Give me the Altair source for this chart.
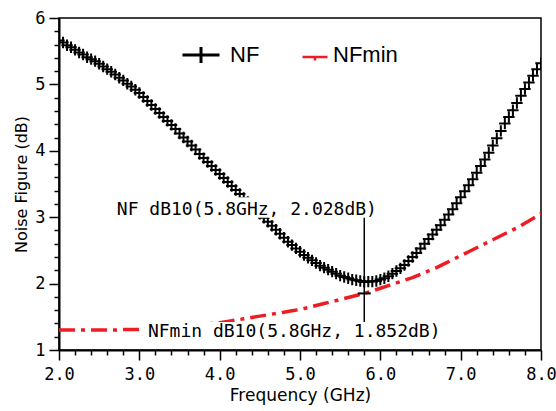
import altair as alt
import pandas as pd

# ---------------- data ----------------
freq_nf = [round(2.0 + 0.05 * i, 2) for i in range(121)]
nf_db = [
    5.66, 5.63, 5.59, 5.56, 5.52, 5.48, 5.45, 5.41, 5.38, 5.35,
    5.31, 5.27, 5.23, 5.19, 5.15, 5.10, 5.06, 5.01, 4.97, 4.92,
    4.87, 4.81, 4.75, 4.69, 4.63, 4.57, 4.51, 4.45, 4.39, 4.33,
    4.26, 4.20, 4.14, 4.08, 4.02, 3.95, 3.89, 3.83, 3.77, 3.71,
    3.65, 3.59, 3.53, 3.47, 3.41, 3.35, 3.29, 3.23, 3.17, 3.11,
    3.05, 2.99, 2.93, 2.87, 2.81, 2.75, 2.69, 2.63, 2.58, 2.53,
    2.48, 2.43, 2.39, 2.35, 2.31, 2.27, 2.24, 2.21, 2.18, 2.15,
    2.12, 2.10, 2.08, 2.06, 2.05, 2.04, 2.028, 2.03, 2.03, 2.04,
    2.06, 2.08, 2.11, 2.15, 2.19, 2.23, 2.28, 2.34, 2.40, 2.46,
    2.53, 2.60, 2.67, 2.74, 2.81, 2.88, 2.96, 3.04, 3.12, 3.21,
    3.30, 3.39, 3.48, 3.57, 3.67, 3.77, 3.87, 3.97, 4.08, 4.19,
    4.30, 4.41, 4.51, 4.61, 4.72, 4.83, 4.93, 5.03, 5.13, 5.23,
    5.32,
]

freq_nfmin = [round(2.0 + 0.1 * i, 1) for i in range(61)]
nfmin_db = [
    1.30, 1.30, 1.30, 1.30, 1.30, 1.30, 1.30, 1.30, 1.31, 1.31,
    1.31, 1.32, 1.32, 1.33, 1.34, 1.35, 1.36, 1.37, 1.38, 1.40,
    1.41, 1.43, 1.45, 1.47, 1.49, 1.51, 1.53, 1.55, 1.57, 1.59,
    1.61, 1.64, 1.67, 1.70, 1.73, 1.76, 1.79, 1.82, 1.852, 1.89,
    1.93, 1.97, 2.01, 2.05, 2.09, 2.14, 2.19, 2.24, 2.30, 2.36,
    2.42, 2.48, 2.54, 2.60, 2.66, 2.72, 2.78, 2.84, 2.91, 2.98,
    3.05,
]

x_ticks = [round(2.0 + 0.2 * i, 1) for i in range(31)]
y_ticks = [round(1.0 + 0.2 * i, 1) for i in range(26)]

marker_freq = 5.8
marker_values = [2.028, 1.852]
marker_line = [1.37, 3.03]

ann_text = ["NF dB10(5.8GHz, 2.028dB)", "NFmin dB10(5.8GHz, 1.852dB)"]
ann_f = [2.72, 3.107]
ann_v = [3.033, 1.196]
ann_box_f = [2.70, 3.07]
ann_box_f2 = [5.97, 6.81]
ann_box_v = [3.30, 1.42]
ann_box_v2 = [2.99, 1.15]

legend_names = ["NF", "NFmin"]

RED = "#ee1c24"

# ---------------- scales / axes ----------------
xs = alt.Scale(domain=[2, 8], nice=False, zero=False)
ys = alt.Scale(domain=[1, 6], nice=False, zero=False)

xaxis = alt.Axis(
    values=x_ticks, title="Frequency (GHz)", titleFont="DejaVu Sans", titleFontSize=17,
    titleFontWeight="normal", titleColor="black", titlePadding=5,
    labelExpr="datum.value % 1 === 0 ? format(datum.value, '.1f') : ''",
    labelFont="DejaVu Sans Mono", labelFontSize=17, labelColor="black",
    labelPadding=6, labelFlush=False, labelOverlap=False,
    tickSize={"condition": {"test": "datum.value % 1 === 0", "value": 10}, "value": 5},
    tickColor="black", tickWidth=1.5, domainColor="black", domainWidth=2, grid=False,
)
yaxis = alt.Axis(
    values=y_ticks, title="Noise Figure (dB)", titleFont="DejaVu Sans", titleFontSize=16,
    titleFontWeight="normal", titleColor="black", titlePadding=5,
    labelExpr="datum.value % 1 === 0 ? format(datum.value, 'd') : ''",
    labelFont="DejaVu Sans Mono", labelFontSize=17, labelColor="black",
    labelPadding=4, labelFlush=False, labelOverlap=False,
    tickSize={"condition": {"test": "datum.value % 1 === 0", "value": 10}, "value": 5},
    tickColor="black", tickWidth=1.5, domainColor="black", domainWidth=2, grid=False,
)

X = alt.X("f:Q", scale=xs, axis=xaxis)
Y = alt.Y("v:Q", scale=ys, axis=yaxis)

df_nf = pd.DataFrame({"f": freq_nf, "v": nf_db})
df_nfmin = pd.DataFrame({"f": freq_nfmin, "v": nfmin_db})
df_rule = pd.DataFrame({"f": [marker_freq], "v": [marker_line[0]], "v2": [marker_line[1]]})
df_mark = pd.DataFrame({"f": [marker_freq] * 2, "v": marker_values})
df_box = pd.DataFrame({"f": ann_box_f, "f2": ann_box_f2, "v": ann_box_v, "v2": ann_box_v2})
df_ann = pd.DataFrame({"f": ann_f, "v": ann_v, "t": ann_text})

nfmin_line = alt.Chart(df_nfmin).mark_line(
    color=RED, strokeWidth=3.5, strokeDash=[16, 6, 4, 6], clip=True
).encode(x=X, y=Y)

nf_pts = alt.Chart(df_nf).mark_point(
    shape="M-1,0H1M0,-1V1", size=130, filled=False, color="black",
    strokeWidth=2, opacity=1, clip=True
).encode(x=X, y=Y)

rule = alt.Chart(df_rule).mark_rule(color="black", strokeWidth=1.5).encode(
    x=X, y=Y, y2="v2:Q"
)

marks = alt.Chart(df_mark).mark_point(
    shape="M-1,0H1", size=169, filled=False, color="black", strokeWidth=2, opacity=1
).encode(x=X, y=Y)

boxes = alt.Chart(df_box).mark_rect(color="white", opacity=1).encode(
    x=X, x2="f2:Q", y=Y, y2="v2:Q"
)

ann = alt.Chart(df_ann).mark_text(
    align="left", baseline="alphabetic", font="DejaVu Sans Mono", fontSize=18, color="black"
).encode(x=X, y=Y, text="t:N")

# legend (manual)
leg_nf_sym = alt.Chart(pd.DataFrame({"n": [legend_names[0]]})).mark_point(
    shape="M-1,0H1M0,-0.43V0.43", size=1369, filled=False, color="black",
    strokeWidth=3, opacity=1
).encode(x=alt.value(142), y=alt.value(37))
leg_nf_txt = alt.Chart(pd.DataFrame({"n": [legend_names[0]]})).mark_text(
    align="left", baseline="alphabetic", font="Liberation Sans", fontSize=22, color="black"
).encode(x=alt.value(171), y=alt.value(44), text="n:N")
leg_min_sym = alt.Chart(pd.DataFrame({"n": [legend_names[1]]})).mark_point(
    shape="M-1,0H1M0,0V0.28", size=625, filled=False, color=RED,
    strokeWidth=2.5, opacity=1
).encode(x=alt.value(256), y=alt.value(39))
leg_min_txt = alt.Chart(pd.DataFrame({"n": [legend_names[1]]})).mark_text(
    align="left", baseline="alphabetic", font="Liberation Sans", fontSize=22, color="black"
).encode(x=alt.value(274), y=alt.value(44), text="n:N")

chart = alt.layer(
    nfmin_line, nf_pts, rule, marks, boxes, ann,
    leg_nf_sym, leg_nf_txt, leg_min_sym, leg_min_txt,
).properties(
    width=482, height=332,
    autosize=alt.AutoSizeParams(type="none"),
    padding={"left": 59, "top": 18, "right": 15, "bottom": 61},
    background="white",
).configure_view(stroke="black", strokeWidth=1.5)

chart.save("out.html", embed_options={"renderer": "svg", "actions": False})
